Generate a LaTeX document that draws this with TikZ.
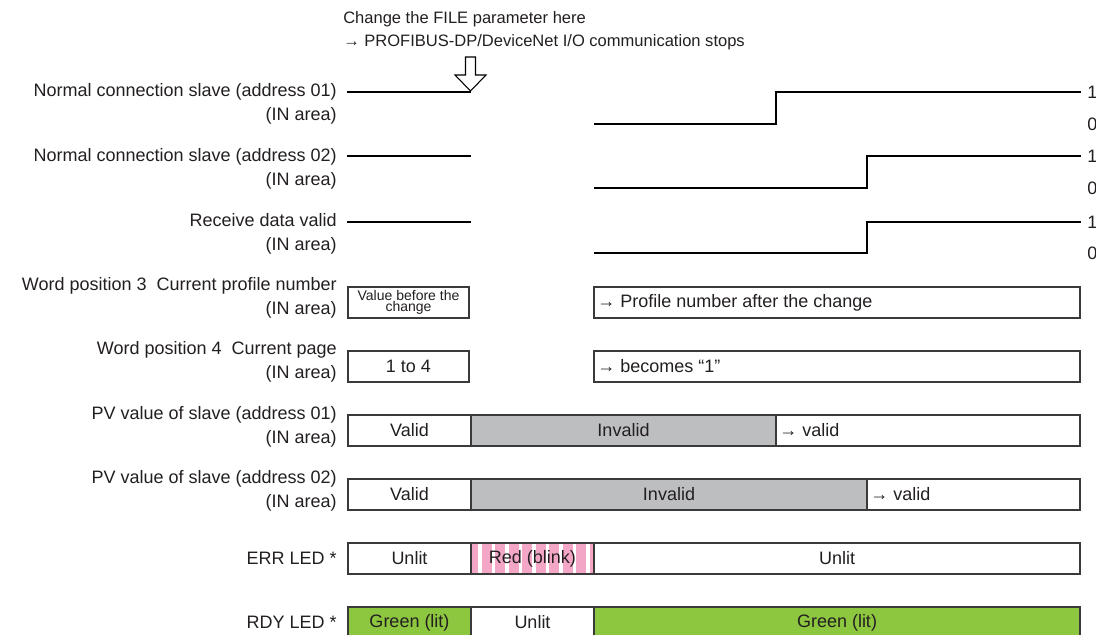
\documentclass[tikz,border=0pt]{standalone}
\usepackage{fontspec}
\setmainfont{Liberation Sans}
\definecolor{ink}{HTML}{231F20}
\definecolor{invalidgray}{HTML}{BCBEC0}
\definecolor{blinkpink}{HTML}{F4A6C6}
\definecolor{litgreen}{HTML}{8DC63F}
\definecolor{frame}{HTML}{3A3A3A}
\begin{document}
\begin{tikzpicture}[x=0.75pt, y=-0.75pt, font=\fontsize{13.5}{17.6}\selectfont, text=ink,
  lbl/.style={anchor=east, align=right, inner sep=0pt},
  sig/.style={line width=2.2pt, line join=miter},
  cell/.style={draw=frame, line width=1pt},
  lvl/.style={anchor=west, inner sep=0pt}]
  \useasboundingbox (0,0) rectangle (1096,635);
  % note and change marker
  \node[anchor=west, align=left, inner sep=0pt, font=\fontsize{12.4}{17.2}\selectfont] (note) at (343,31)
    {Change the FILE parameter here\\→ PROFIBUS-DP/DeviceNet I/O communication stops};
  \draw[line width=0.8pt, fill=white] (465.5,57) -- (475.5,57) -- (475.5,75) -- (486,75)
    -- (470.5,91) -- (455,75) -- (465.5,75) -- cycle;
  % row labels
  \node[lbl] (l1) at (337,104) {Normal connection slave (address 01)\\(IN area)};
  \node[lbl] (l2) at (337,169) {Normal connection slave (address 02)\\(IN area)};
  \node[lbl] (l3) at (337,234) {Receive data valid\\(IN area)};
  \node[lbl] (l4) at (337,298) {Word position 3 \ Current profile number\\(IN area)};
  \node[lbl] (l5) at (337,362) {Word position 4 \ Current page\\(IN area)};
  \node[lbl] (l6) at (337,427) {PV value of slave (address 01)\\(IN area)};
  \node[lbl] (l7) at (337,491) {PV value of slave (address 02)\\(IN area)};
  \node[lbl] (l8) at (337,558) {ERR LED *};
  \node[lbl] (l9) at (337,622) {RDY LED *};
  % signals
  \draw[sig] (347,92) -- (471,92);
  \draw[sig] (594,124) -- (776,124) -- (776,92) -- (1081,92);
  \draw[sig] (347,156) -- (471,156);
  \draw[sig] (594,188) -- (867,188) -- (867,156) -- (1081,156);
  \draw[sig] (347,222) -- (471,222);
  \draw[sig] (594,253) -- (867,253) -- (867,222) -- (1081,222);
  \foreach \y/\n in {92/a,156/b,222/c} {
    \node[lvl] (one\n) at (1087,\y) {1};
  }
  \foreach \y/\n in {124/a,188/b,253/c} {
    \node[lvl] (zero\n) at (1087,\y) {0};
  }
  % profile number and page
  \draw[cell] (348,287) rectangle (469,318);
  \node[align=center, inner sep=0pt, font=\fontsize{10.5}{8.8}\selectfont] (v3) at (408.5,302.5) {Value before the\\change};
  \draw[cell] (594,287) rectangle (1080,318);
  \node[lvl] (p3) at (597,302.5) {→ Profile number after the change};
  \draw[cell] (348,351) rectangle (469,382);
  \node (v4) at (408.5,366.5) {1 to 4};
  \draw[cell] (594,351) rectangle (1080,382);
  \node[lvl] (p4) at (597,366.5) {→ becomes “1”};
  % PV values
  \filldraw[cell, fill=white] (348,415) rectangle (471,446);
  \filldraw[cell, fill=invalidgray] (471,415) rectangle (776,446);
  \filldraw[cell, fill=white] (776,415) rectangle (1080,446);
  \node (pv1a) at (409.5,430.5) {Valid};
  \node (pv1b) at (623.5,430.5) {Invalid};
  \node[lvl] (pv1c) at (779,430.5) {→ valid};
  \filldraw[cell, fill=white] (348,479) rectangle (471,510);
  \filldraw[cell, fill=invalidgray] (471,479) rectangle (867,510);
  \filldraw[cell, fill=white] (867,479) rectangle (1080,510);
  \node (pv2a) at (409.5,494.5) {Valid};
  \node (pv2b) at (669,494.5) {Invalid};
  \node[lvl] (pv2c) at (870,494.5) {→ valid};
  % ERR LED
  \filldraw[cell, fill=white] (348,543) rectangle (471,574);
  \fill[blinkpink] (471,543) rectangle (594,574);
  \foreach \x in {478,491.5,...,587} {
    \fill[white] (\x,543) rectangle (\x+3.5,574);
  }
  \draw[cell] (471,543) rectangle (594,574);
  \filldraw[cell, fill=white] (594,543) rectangle (1080,574);
  \node (erra) at (409.5,558.5) {Unlit};
  \node (errb) at (532.5,558.5) {Red (blink)};
  \node (errc) at (837,558.5) {Unlit};
  % RDY LED
  \filldraw[cell, fill=litgreen] (348,607) rectangle (471,638);
  \filldraw[cell, fill=white] (471,607) rectangle (594,638);
  \filldraw[cell, fill=litgreen] (594,607) rectangle (1080,638);
  \node (rdya) at (409.5,622.5) {Green (lit)};
  \node (rdyb) at (532.5,622.5) {Unlit};
  \node (rdyc) at (837,622.5) {Green (lit)};
\end{tikzpicture}
\end{document}
